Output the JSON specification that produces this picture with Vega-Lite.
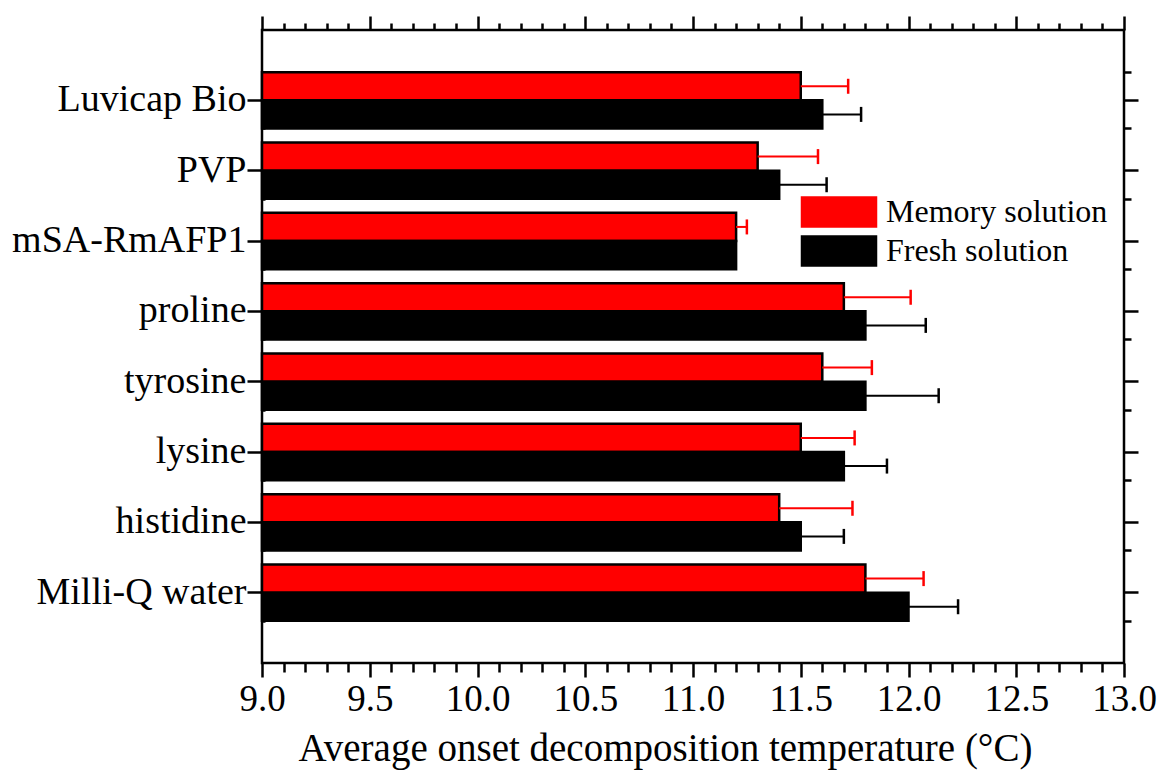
{
  "$schema": "https://vega.github.io/schema/vega-lite/v6.json",
  "autosize": {"type": "none"},
  "padding": {"left": 262, "top": 30, "right": 39, "bottom": 115},
  "width": 862,
  "height": 633,
  "background": "white",
  "config": {
    "font": "Liberation Serif",
    "view": {"stroke": "black", "strokeWidth": 2.5},
    "axis": {"domain": false, "tickColor": "black", "tickWidth": 2.5, "labelColor": "black", "titleColor": "black", "grid": false, "labelFont": "Liberation Serif", "titleFont": "Liberation Serif"},
    "legend": {"labelFont": "Liberation Serif"}
  },
  "data": {
    "values": [
      {"sample": "Luvicap Bio", "series": "Memory solution", "value": 11.5, "hi": 11.72},
      {"sample": "Luvicap Bio", "series": "Fresh solution", "value": 11.6, "hi": 11.78},
      {"sample": "PVP", "series": "Memory solution", "value": 11.3, "hi": 11.58},
      {"sample": "PVP", "series": "Fresh solution", "value": 11.4, "hi": 11.62},
      {"sample": "mSA-RmAFP1", "series": "Memory solution", "value": 11.2, "hi": 11.25},
      {"sample": "mSA-RmAFP1", "series": "Fresh solution", "value": 11.2, "hi": null},
      {"sample": "proline", "series": "Memory solution", "value": 11.7, "hi": 12.01},
      {"sample": "proline", "series": "Fresh solution", "value": 11.8, "hi": 12.08},
      {"sample": "tyrosine", "series": "Memory solution", "value": 11.6, "hi": 11.83},
      {"sample": "tyrosine", "series": "Fresh solution", "value": 11.8, "hi": 12.14},
      {"sample": "lysine", "series": "Memory solution", "value": 11.5, "hi": 11.75},
      {"sample": "lysine", "series": "Fresh solution", "value": 11.7, "hi": 11.9},
      {"sample": "histidine", "series": "Memory solution", "value": 11.4, "hi": 11.74},
      {"sample": "histidine", "series": "Fresh solution", "value": 11.5, "hi": 11.7},
      {"sample": "Milli-Q water", "series": "Memory solution", "value": 11.8, "hi": 12.07},
      {"sample": "Milli-Q water", "series": "Fresh solution", "value": 12.0, "hi": 12.23}
    ]
  },
  "resolve": {"axis": {"x": "independent", "y": "independent"}},
  "layer": [
    {
      "mark": {"type": "bar", "stroke": "black", "strokeWidth": 2.5},
      "encoding": {
        "y": {"field": "sample", "type": "nominal", "sort": null,
          "scale": {"paddingInner": 0.2, "paddingOuter": 0.6},
          "axis": {"orient": "left", "title": null, "labelFontSize": 38, "labelPadding": 1, "tickSize": 15, "labelLimit": 400}},
        "yOffset": {"field": "series", "type": "nominal", "scale": {"domain": ["Memory solution", "Fresh solution"]}},
        "x": {"field": "value", "type": "quantitative",
          "scale": {"domain": [9, 13], "nice": false, "zero": false},
          "axis": {"orient": "bottom", "values": [9, 9.5, 10, 10.5, 11, 11.5, 12, 12.5, 13], "format": ".1f", "tickSize": 14, "labelFontSize": 37, "labelPadding": 4, "labelFlush": false, "labelOverlap": false,
            "title": "Average onset decomposition temperature (°C)", "titleFontSize": 39, "titleFontWeight": "normal", "titlePadding": 12, "titleX": 403, "titleAlign": "center"}},
        "x2": {"datum": 9},
        "stroke": {"value": "black"},
        "strokeWidth": {"value": 2.5},
        "color": {"field": "series", "type": "nominal",
          "scale": {"domain": ["Memory solution", "Fresh solution"], "range": ["#ff0000", "#000000"]},
          "legend": {"title": null, "orient": "none", "legendX": 561, "legendY": 166, "padding": 0,
            "symbolType": "M-5,-2H5V2H-5Z", "symbolSize": 225,
            "labelFontSize": 32, "labelOffset": 31, "labelColor": "black", "rowPadding": 3, "labelLimit": 400}}
      }
    },
    {
      "transform": [{"filter": "datum.hi != null"}],
      "mark": {"type": "rule", "strokeWidth": 2},
      "encoding": {
        "y": {"field": "sample", "type": "nominal", "sort": null,
          "axis": {"orient": "right", "title": null, "labels": false, "tickSize": 14}},
        "yOffset": {"field": "series", "type": "nominal", "scale": {"domain": ["Memory solution", "Fresh solution"]}},
        "x": {"field": "value", "type": "quantitative",
          "axis": {"orient": "bottom", "values": [9.1, 9.2, 9.3, 9.4, 9.6, 9.7, 9.8, 9.9, 10.1, 10.2, 10.3, 10.4, 10.6, 10.7, 10.8, 10.9, 11.1, 11.2, 11.3, 11.4, 11.6, 11.7, 11.8, 11.9, 12.1, 12.2, 12.3, 12.4, 12.6, 12.7, 12.8, 12.9], "labels": false, "title": null, "tickSize": 9}},
        "x2": {"field": "hi"},
        "stroke": {"field": "series", "type": "nominal", "scale": {"domain": ["Memory solution", "Fresh solution"], "range": ["#ff0000", "#000000"]}, "legend": null}
      }
    },
    {
      "transform": [{"filter": "datum.hi != null && datum.series == 'Memory solution'"}],
      "mark": {"type": "tick", "orient": "vertical", "size": 15, "thickness": 2.5, "opacity": 1, "color": "#ff0000"},
      "encoding": {
        "y": {"field": "sample", "type": "nominal", "sort": null,
          "axis": {"orient": "right", "title": null, "labels": false, "tickSize": 7, "tickBand": "extent"}},
        "yOffset": {"field": "series", "type": "nominal", "scale": {"domain": ["Memory solution", "Fresh solution"]}},
        "x": {"field": "hi", "type": "quantitative",
          "axis": {"orient": "top", "values": [9.1, 9.2, 9.3, 9.4, 9.6, 9.7, 9.8, 9.9, 10.1, 10.2, 10.3, 10.4, 10.6, 10.7, 10.8, 10.9, 11.1, 11.2, 11.3, 11.4, 11.6, 11.7, 11.8, 11.9, 12.1, 12.2, 12.3, 12.4, 12.6, 12.7, 12.8, 12.9], "labels": false, "title": null, "tickSize": 7}}
      }
    },
    {
      "transform": [{"filter": "datum.hi != null && datum.series == 'Fresh solution'"}],
      "mark": {"type": "tick", "orient": "vertical", "size": 15, "thickness": 2.5, "opacity": 1, "color": "#000000"},
      "encoding": {
        "y": {"field": "sample", "type": "nominal", "sort": null,
          "axis": {"orient": "left", "title": null, "labels": false, "tickSize": 3, "offset": -3, "tickBand": "extent"}},
        "yOffset": {"field": "series", "type": "nominal", "scale": {"domain": ["Memory solution", "Fresh solution"]}},
        "x": {"field": "hi", "type": "quantitative",
          "axis": {"orient": "top", "values": [9, 9.5, 10, 10.5, 11, 11.5, 12, 12.5, 13], "labels": false, "title": null, "tickSize": 14}}
      }
    }
  ]
}
